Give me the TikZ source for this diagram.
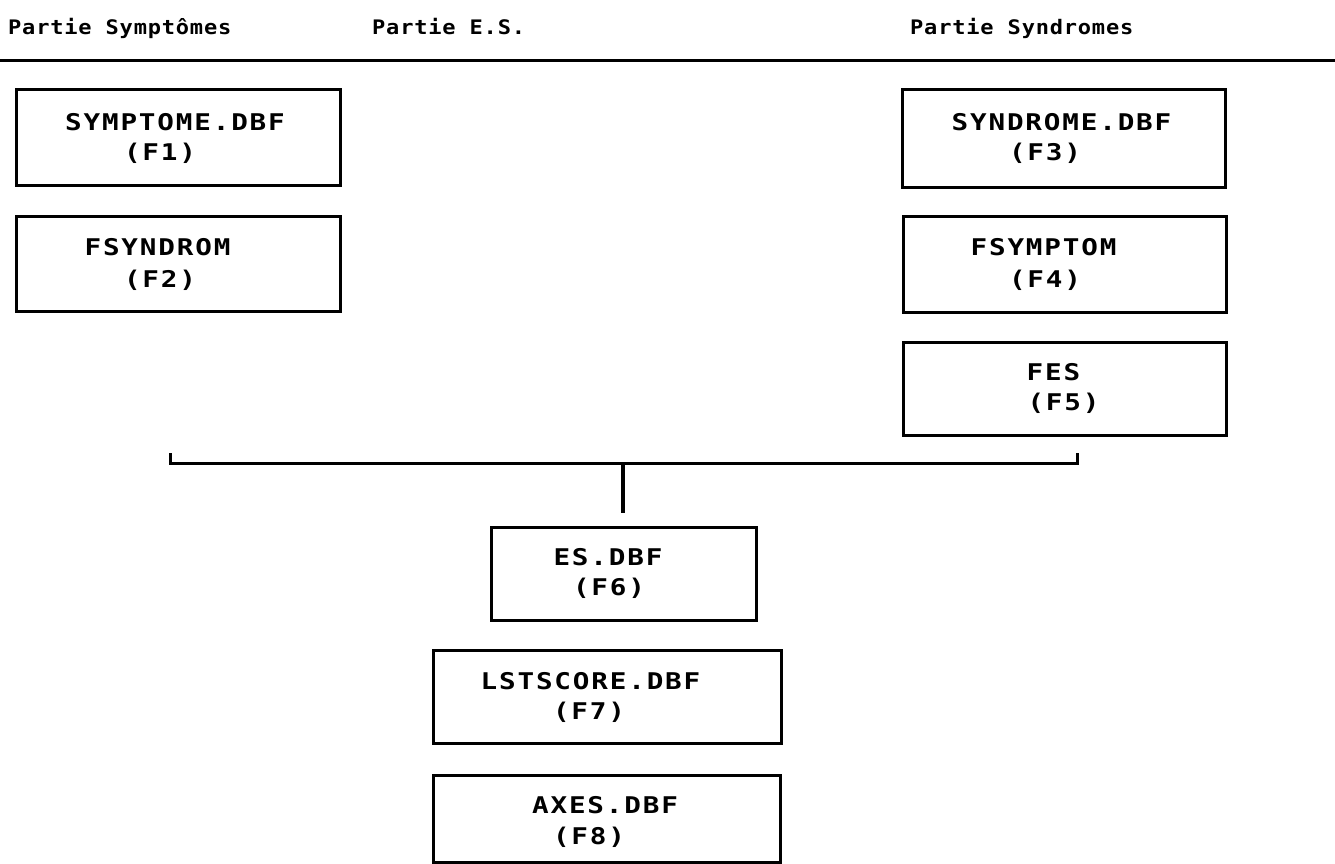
\documentclass[tikz,border=0pt]{standalone}
\usepackage{fontspec}
\newfontfamily\hdrfont{DejaVu Sans Mono}[FakeStretch=1.1,LetterSpace=4]
\newfontfamily\boxfont{DejaVu Sans Mono}[FakeStretch=1.2,LetterSpace=8]
\begin{document}
\begin{tikzpicture}[x=1pt,y=-1pt,
  filebox/.style={draw, line width=3pt, rectangle, inner sep=0pt},
  lbl/.style={inner sep=0pt, anchor=base, font=\boxfont\bfseries\fontsize{23}{23}\selectfont},
  hdr/.style={inner sep=0pt, anchor=base west, font=\hdrfont\bfseries\fontsize{20}{20}\selectfont},
  rule/.style={line width=3pt}]
\useasboundingbox (0,0) rectangle (1335,864);

% section headings and underline
\node[hdr] (h1) at (8,35) {Partie Symptômes};
\node[hdr] (h2) at (372,35) {Partie E.S.};
\node[hdr] (h3) at (910,35) {Partie Syndromes};
\coordinate (rl) at (0,61);
\coordinate (rr) at (1335,61);
\draw[rule] (rl) -- (rr);

% symptom files
\node[filebox, minimum width=324pt, minimum height=95pt] (f1) at (178,137.5) {};
\node[lbl] (f1a) at (175,131) {SYMPTOME.DBF};
\node[lbl] (f1b) at (160,160) {(F1)};
\node[filebox, minimum width=324pt, minimum height=95pt] (f2) at (178,263.5) {};
\node[lbl] (f2a) at (157.5,255) {FSYNDROM};
\node[lbl] (f2b) at (160,287) {(F2)};

% syndrome files
\node[filebox, minimum width=323pt, minimum height=97pt] (f3) at (1063.5,138.5) {};
\node[lbl] (f3a) at (1061.5,131) {SYNDROME.DBF};
\node[lbl] (f3b) at (1045,160) {(F3)};
\node[filebox, minimum width=323pt, minimum height=96pt] (f4) at (1064.5,264) {};
\node[lbl] (f4a) at (1043.5,255) {FSYMPTOM};
\node[lbl] (f4b) at (1045,287) {(F4)};
\node[filebox, minimum width=323pt, minimum height=93pt] (f5) at (1064.5,388.5) {};
\node[lbl] (f5a) at (1053.5,380) {FES};
\node[lbl] (f5b) at (1063.5,410) {(F5)};

% E.S. files
\node[filebox, minimum width=265pt, minimum height=93pt] (f6) at (623.5,573.5) {};
\node[lbl] (f6a) at (608,565) {ES.DBF};
\node[lbl] (f6b) at (609,595) {(F6)};
\node[filebox, minimum width=348pt, minimum height=93pt] (f7) at (607,696.5) {};
\node[lbl] (f7a) at (590.5,689) {LSTSCORE.DBF};
\node[lbl] (f7b) at (589,719) {(F7)};
\node[filebox, minimum width=347pt, minimum height=87pt] (f8) at (606.5,818.5) {};
\node[lbl] (f8a) at (605,813) {AXES.DBF};
\node[lbl] (f8b) at (589,844) {(F8)};

% bracket joining the parts to ES.DBF
\coordinate (bl) at (170,453);
\coordinate (br) at (1077,453);
\coordinate (bus) at (623,463);
\draw[rule] (bl) |- (bus) -| (br);
\draw[rule, line width=3.4pt, shorten >=13pt] (bus) -- (bus |- f6.north);
\end{tikzpicture}
\end{document}
